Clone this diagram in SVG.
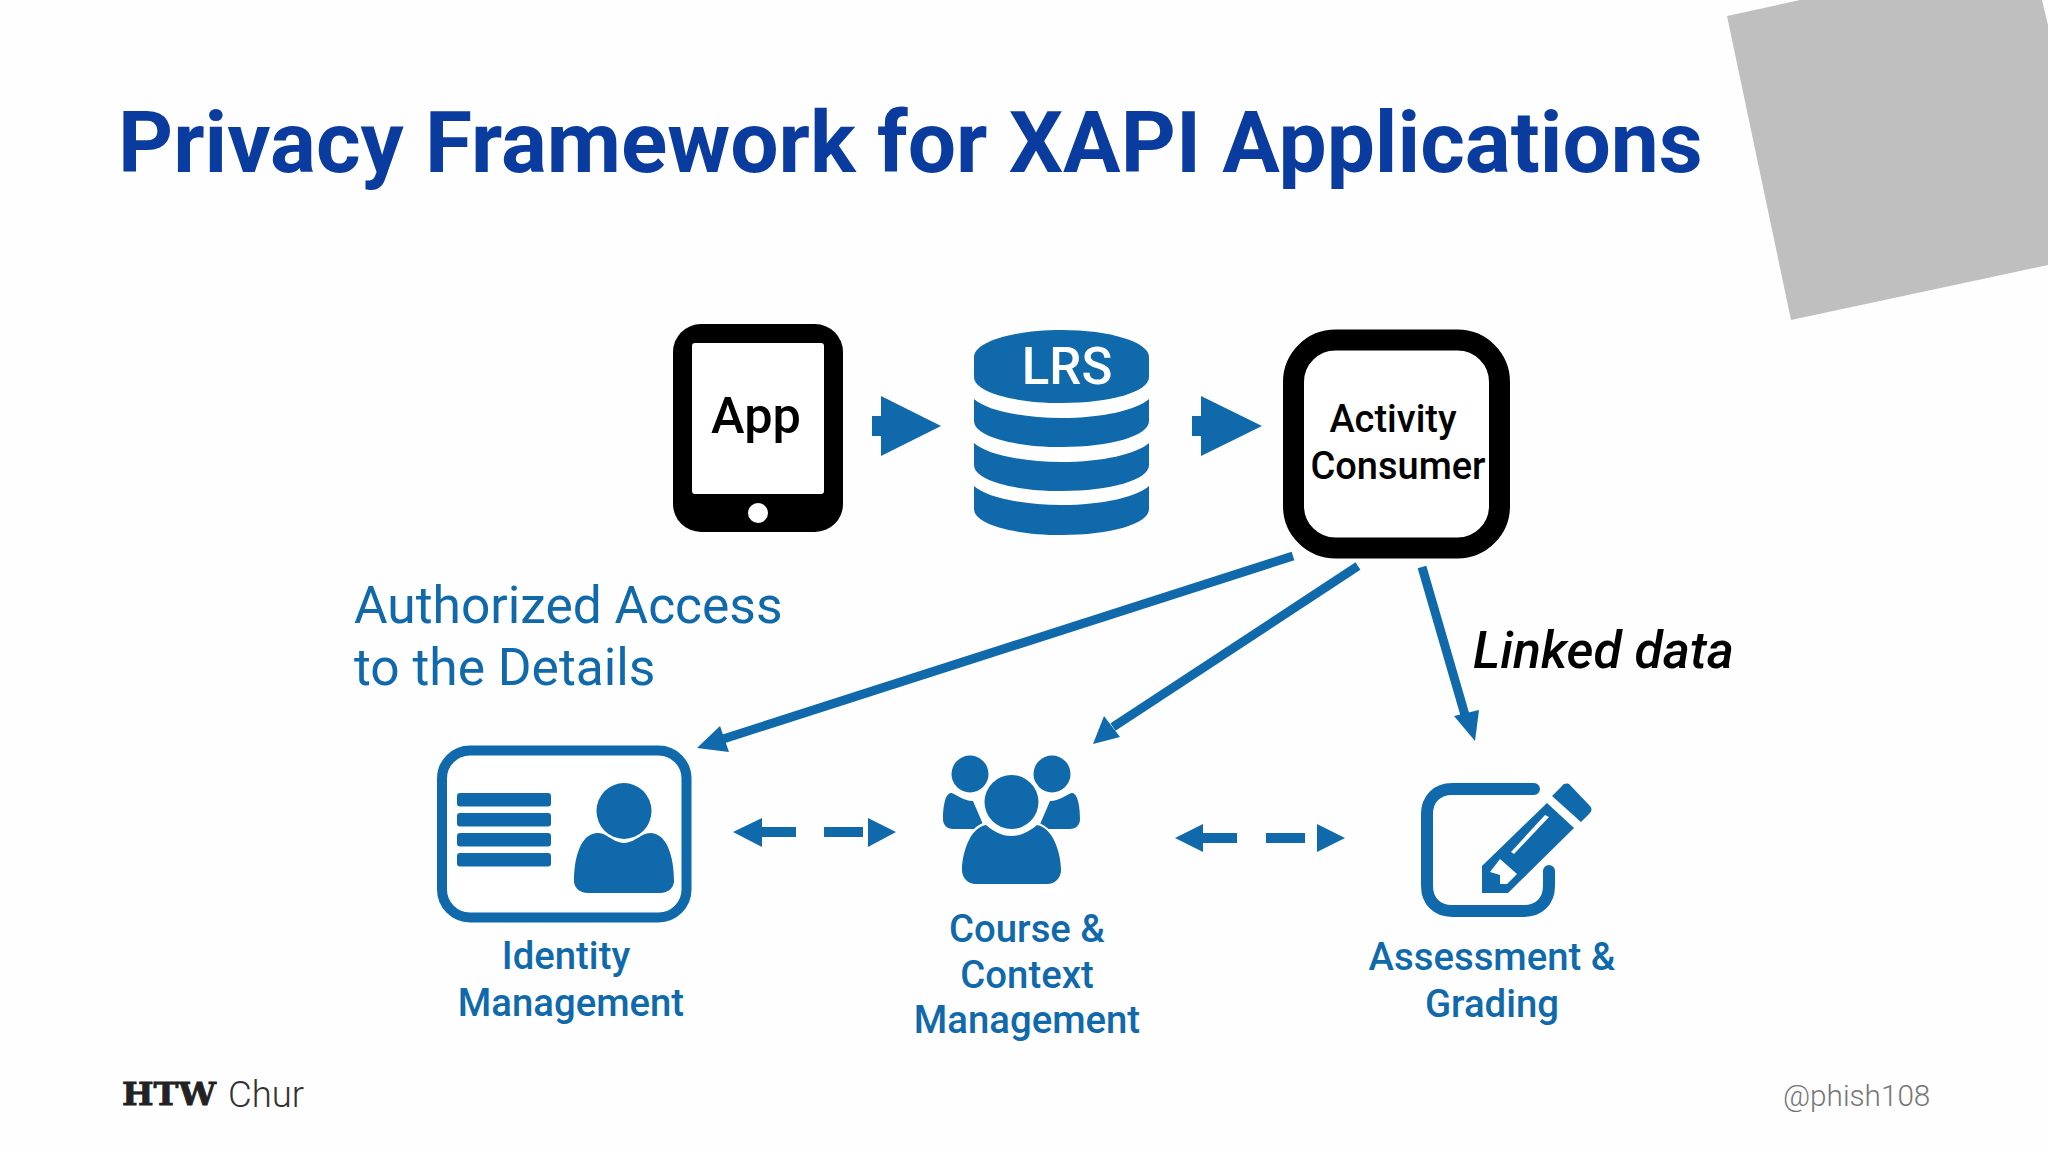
<svg xmlns="http://www.w3.org/2000/svg" width="2048" height="1152" viewBox="0 0 2048 1152">
<style>
text{font-family:Roboto,"Liberation Sans",sans-serif}
.b{fill:#0f69ab}
.lab{fill:#0f69ab;font-size:38.300px;font-weight:500;text-anchor:middle}
.blk{fill:#000;text-anchor:middle;font-weight:500}
.w{fill:#fff}
.ln{stroke:#0f69ab;stroke-width:9;fill:none}
</style>
<rect width="2048" height="1152" fill="#fefefe"/>
<polygon points="1727,16 1800,0 2042,0 2048,25 2048,265 1791,320" fill="#bfbfc0"/>
<text id="title" x="118" y="172" font-size="85.700" font-weight="700" fill="#0a3ca0">Privacy Framework for XAPI Applications</text>

<g id="connectors">
<line class="ln" x1="1293" y1="556" x2="720" y2="740"/>
<polygon class="b" points="697,748 720,726 729,752"/>
<line class="ln" x1="1358" y1="566" x2="1113" y2="727"/>
<polygon class="b" points="1093,744 1104,716 1120,737"/>
<line class="ln" x1="1422" y1="567" x2="1465" y2="715"/>
<polygon class="b" points="1475,741 1454,716 1479,710"/>
<path class="b" d="M872 416h9v-20l60 30l-60 30v-20h-9z"/>
<path class="b" d="M1192 416h9v-20l61 30l-61 30v-20h-9z"/>
<path class="b" d="M733 832l29-14v9h34v10h-34v10z"/>
<path class="b" d="M824 827h39v10h-39zM868 818l28 14l-28 15z"/>
<path class="b" d="M1175 838l28-14v9h34v10h-34v9z"/>
<path class="b" d="M1266 833h39v10h-39zM1317 824l28 14l-28 14z"/>
</g>

<g id="app">
<rect x="673" y="324" width="170" height="208" rx="28" fill="#000"/>
<rect x="692" y="343" width="132" height="151" rx="3" class="w"/>
<circle cx="758" cy="513" r="10" class="w"/>
<text class="blk" x="756" y="433" font-size="50.500">App</text>
</g>

<g id="lrs">
<path class="b" d="M974 357c0-15 39-27 87.500-27s87.500 12 87.500 27v20c0 15-39 26-87.500 26s-87.500-11-87.500-26z"/>
<path class="b" d="M974 399c12 11 47 19 87.500 19s75.500-8 87.500-19v22c0 15-39 26-87.500 26s-87.500-11-87.500-26z"/>
<path class="b" d="M974 443c12 11 47 19 87.500 19s75.500-8 87.500-19v22c0 15-39 26-87.500 26s-87.500-11-87.500-26z"/>
<path class="b" d="M974 486c12 11 47 19 87.500 19s75.500-8 87.500-19v23c0 15-39 26-87.500 26s-87.500-11-87.500-26z"/>
<text class="w" x="1067" y="384" font-size="51" font-weight="500" text-anchor="middle">LRS</text>
</g>

<g id="activity-consumer">
<rect x="1293.500" y="340" width="206" height="208" rx="42" fill="#fff" stroke="#000" stroke-width="21"/>
<text class="blk" x="1393" y="432" font-size="38">Activity</text>
<text class="blk" x="1398" y="479" font-size="38">Consumer</text>
</g>

<text id="authorized" x="354" font-size="51.500" font-weight="400" fill="#0f69ab"><tspan x="354" y="623">Authorized Access</tspan><tspan x="354" y="685">to the Details</tspan></text>
<text id="linked-data" x="1473" y="668" font-size="51.800" font-style="italic" font-weight="500" fill="#000">Linked data</text>

<g id="identity">
<rect x="442" y="750.500" width="244.500" height="167" rx="28" fill="#fff" stroke="#0f69ab" stroke-width="10"/>
<rect class="b" x="457" y="793" width="94" height="13.500" rx="3"/>
<rect class="b" x="457" y="813" width="94" height="13.500" rx="3"/>
<rect class="b" x="457" y="833" width="94" height="13.500" rx="3"/>
<rect class="b" x="457" y="853" width="94" height="13.500" rx="3"/>
<ellipse class="b" cx="624" cy="811" rx="27.500" ry="28"/>
<path class="b" d="M597 833c5 0 7 1 10 3c5 3 11 7 17 7s12-4 17-7c3-2 6-3 10-3c17 1 23 26 23 48c0 7-6 12-14 12h-72c-8 0-14-5-14-12c0-22 6-47 23-48z"/>
<text class="lab" x="566" y="969">Identity</text>
<text class="lab" x="571" y="1016">Management</text>
</g>

<g id="course">
<circle class="b" cx="970" cy="774" r="18.500"/>
<circle class="b" cx="1052" cy="774" r="18.500"/>
<path class="b" d="M951 793c3 0 12 8 22 8l12 28h-32c-6 0-10-4-10-10c0-8 1-25 8-26z"/>
<path class="b" d="M1072 793c-3 0-12 8-22 8l-12 28h32c6 0 10-4 10-10c0-8-1-25-8-26z"/>
<ellipse cx="1011.500" cy="802" rx="31" ry="31" class="w"/>
<ellipse class="b" cx="1011.500" cy="802" rx="27" ry="27"/>
<path d="M961 875c0-25 5-45 22-52c10 10 18 12 28 12s18-2 28-12c17 7 26 27 26 52v20h-104z" class="w"/>
<path class="b" d="M986 825c7 6 15 11 25.500 11s18-5 25.500-11c17 3 24 30 24 45c0 8-6 14-14 14h-71c-8 0-14-6-14-14c0-15 7-42 24-45z"/>
<text class="lab" x="1027" y="942">Course &amp;</text>
<text class="lab" x="1027" y="988">Context</text>
<text class="lab" x="1027" y="1033">Management</text>
</g>

<g id="assessment">
<path d="M1534 789h-82c-15 0-25 10-25 25v72c0 15 10 25 25 25h72c15 0 25-10 25-25v-15" fill="none" stroke="#0f69ab" stroke-width="12" stroke-linecap="round"/>
<path class="b" d="M1482 893v-27l65-63l27 25l-66 65z"/>
<path class="b" d="M1552 796l10-10c2-3 6-3 8-1l20 21c2 2 2 5 0 7l-9 9z"/>
<path class="w" d="M1545 815l4 2l-35 37l-3-2z"/>
<path class="w" d="M1490 872l10-13l17 15l-10 10h-7v-9z"/>
<text class="lab" x="1492" y="970">Assessment &amp;</text>
<text class="lab" x="1492" y="1017">Grading</text>
</g>

<g id="footer">
<text x="122" y="1105" style="font-family:'DejaVu Serif',serif" font-size="31" font-weight="700" fill="#222" stroke="#222" stroke-width="0.800" textLength="94" lengthAdjust="spacingAndGlyphs">HTW</text>
<text x="228" y="1107" font-size="36.500" font-weight="300" fill="#333">Chur</text>
<text x="1783" y="1106" font-size="29.700" font-weight="300" fill="#777">@phish108</text>
</g>
</svg>
